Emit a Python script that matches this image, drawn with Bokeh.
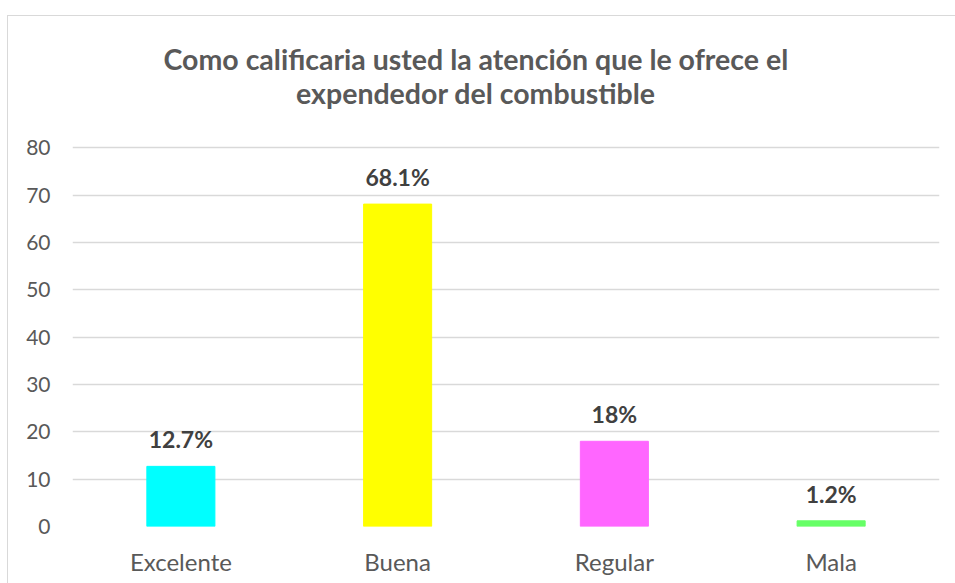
from bokeh.plotting import figure
from bokeh.models import ColumnDataSource, Label, Range1d, FactorRange, FixedTicker
from bokeh.core.properties import value
from bokeh.embed import file_html
from bokeh.resources import INLINE

categories = ["Excelente", "Buena", "Regular", "Mala"]
values = [12.7, 68.1, 18, 1.2]
labels = ["12.7%", "68.1%", "18%", "1.2%"]
colors = ["#00FFFF", "#FFFF00", "#FF66FF", "#66FF66"]
title_lines = ["Como calificaria usted la atención que le ofrece el", "expendedor del combustible"]
y_ticks = [0, 10, 20, 30, 40, 50, 60, 70, 80]

FONT = "Lato"
OX, OY = 8, 16            # page position of the canvas (inside the chart border)
W, H = 955 - OX, 583 - OY
FRAME_TOP, FRAME_BOTTOM = 147 - OY, 525 - OY   # canvas rows of 80 and 0
px_per_unit = (FRAME_BOTTOM - FRAME_TOP) / 80.0
y_top = 80 + FRAME_TOP / px_per_unit


def y_at(page_row):
    return y_top - (page_row - OY) / px_per_unit


src = ColumnDataSource(dict(cat=categories, val=values, lab=labels, col=colors))

p = figure(width=W + 1, height=H + 1, x_range=FactorRange(*categories),
           y_range=Range1d(0, y_top), output_backend="svg", toolbar_location=None,
           min_border_left=72 - OX, min_border_right=17, min_border_top=0,
           min_border_bottom=H - FRAME_BOTTOM,
           styles={"margin-left": "7px", "margin-top": "15px",
                   "border-left": "1px solid #d9d9d9", "border-top": "1px solid #d9d9d9",
                   "box-sizing": "border-box"})
p.x_range.range_padding = 0
p.x_range.factor_padding = 0
p.outline_line_color = None

p.vbar(x="cat", top="val", width=0.314, color="col", source=src)
p.text(x="cat", y="val", text="lab", source=src, text_align="center",
       text_baseline="alphabetic", y_offset=-27, text_font=value(FONT),
       text_font_style="bold", text_font_size="23px", text_color="#404040")

p.yaxis.ticker = FixedTicker(ticks=y_ticks)
p.ygrid.grid_line_color = "#d9d9d9"
p.ygrid.grid_line_width = 1.5
p.xgrid.grid_line_color = None
for ax in (p.xaxis, p.yaxis):
    ax.axis_line_color = None
    ax.major_tick_line_color = None
    ax.minor_tick_line_color = None
    ax.major_tick_out = 0
    ax.major_tick_in = 0
    ax.major_label_text_font = FONT
    ax.major_label_text_color = "#595959"
p.yaxis.major_label_text_font_size = "21px"
p.xaxis.major_label_text_font_size = "24px"
p.yaxis.major_label_standoff = 22
p.xaxis.major_label_standoff = 20

for t, row in zip(title_lines, [58, 92]):
    p.add_layout(Label(x=1.861, y=y_at(row), text=t, text_align="center",
                       text_baseline="alphabetic", text_font=FONT,
                       text_font_style="bold", text_font_size="28.5px",
                       text_color="#595959"))

open("out.html", "w").write(file_html(p, INLINE))
